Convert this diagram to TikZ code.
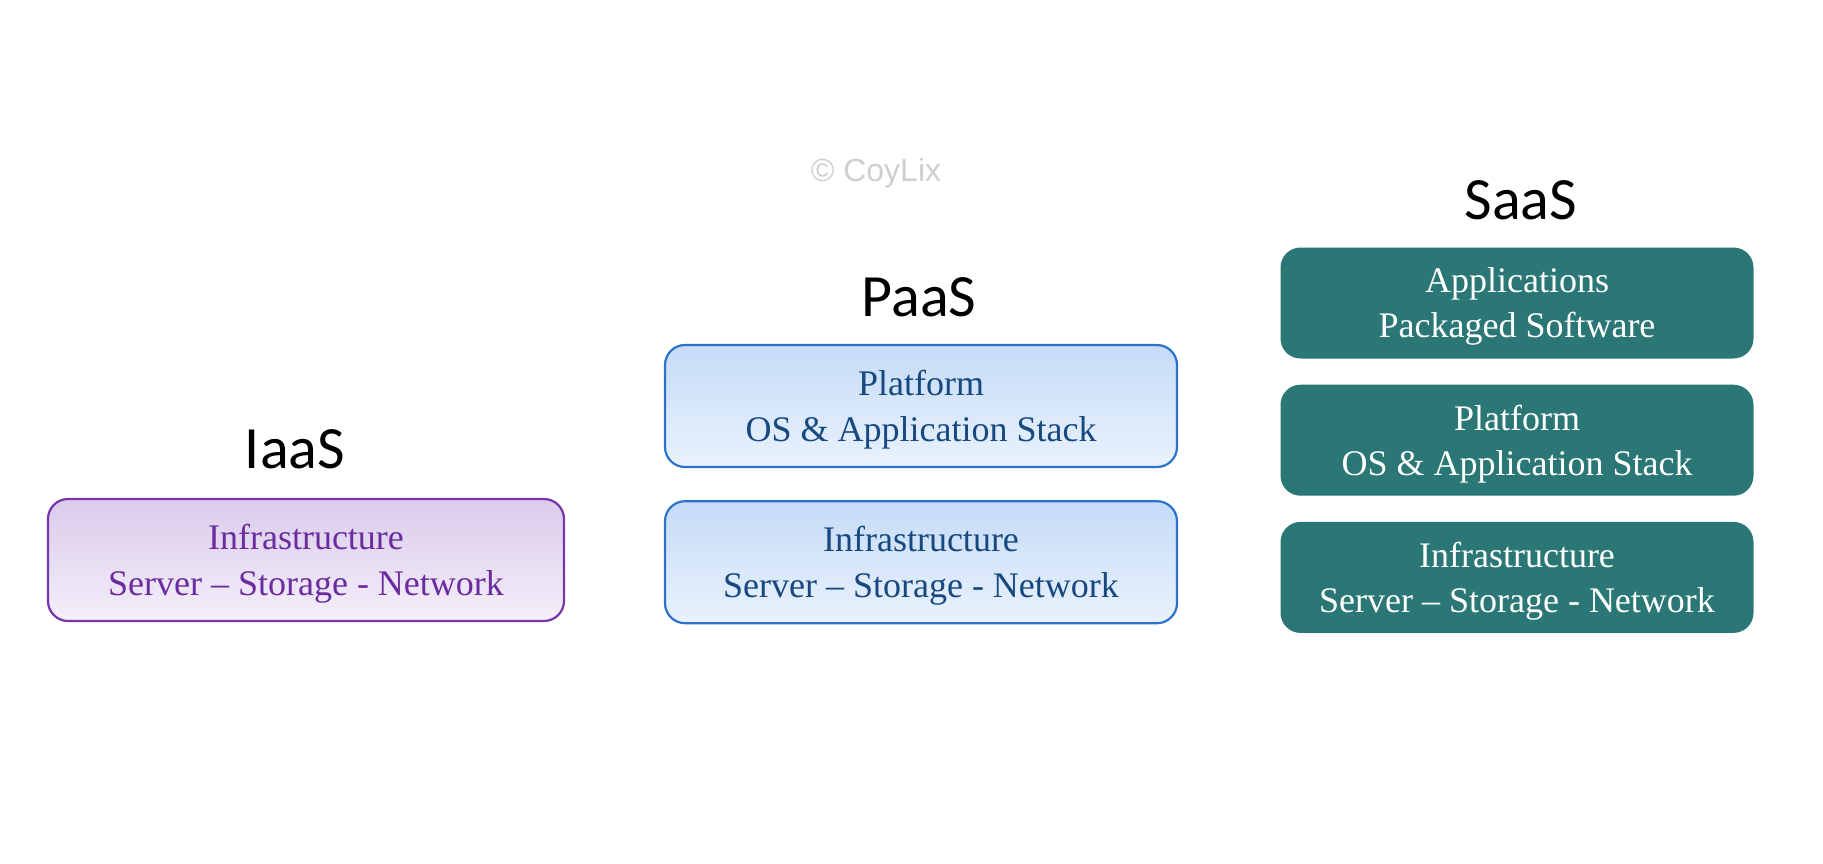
\documentclass[tikz,border=0pt]{standalone}
\usepackage{fontspec}
\setmainfont{Liberation Serif}
\newfontfamily\headfont{Carlito}
\newfontfamily\markfont{Liberation Sans}
\definecolor{iaasline}{HTML}{7636AA}
\definecolor{iaastext}{HTML}{6A2C9E}
\definecolor{iaastop}{HTML}{DACBEA}
\definecolor{iaasbot}{HTML}{F4EFFA}
\definecolor{paasline}{HTML}{2C72C8}
\definecolor{paastext}{HTML}{17487E}
\definecolor{paastop}{HTML}{C5DBF7}
\definecolor{paasbot}{HTML}{E9F2FD}
\definecolor{saasfill}{HTML}{2A7775}
\usetikzlibrary{positioning}

\begin{document}
\begin{tikzpicture}[x=1pt, y=-1pt,
    layer/.style={rounded corners=20pt, align=center, inner sep=0pt,
      line width=2.2pt, minimum height=122pt, text depth=0pt,
      font=\fontsize{36}{46}\selectfont},
    iaasbox/.style={layer, draw=iaasline, top color=iaastop,
      bottom color=iaasbot, text=iaastext, minimum width=516pt},
    paasbox/.style={layer, draw=paasline, top color=paastop,
      bottom color=paasbot, text=paastext, minimum width=512pt},
    saasbox/.style={layer, fill=saasfill, text=white,
      minimum width=473pt, minimum height=111pt,
      font=\fontsize{36}{45}\selectfont},
    head/.style={anchor=base, font=\headfont\fontsize{60}{60}\selectfont}
  ]
  \useasboundingbox (0,0) rectangle (1823,863);

  % watermark
  \node[anchor=base, text=black!19, font=\markfont\fontsize{32}{32}\selectfont]
    (mark) at (876,181) {© CoyLix};

  % IaaS: one layer
  \node[head] (iaas) at (295,468) {IaaS};
  \node[iaasbox] (iaasinfra) at (306,560)
    {Infrastructure\\Server – Storage - Network};

  % PaaS: two layers
  \node[head] (paas) at (919,316) {PaaS};
  \node[paasbox] (paasplat) at (921,406)
    {Platform\\OS \& Application Stack};
  \node[paasbox, below=32pt of paasplat] (paasinfra)
    {Infrastructure\\Server – Storage - Network};

  % SaaS: three layers
  \node[head] (saas) at (1521,219) {SaaS};
  \node[saasbox] (saasapp) at (1517,303)
    {Applications\\Packaged Software};
  \node[saasbox, below=24pt of saasapp] (saasplat)
    {Platform\\OS \& Application Stack};
  \node[saasbox, below=24pt of saasplat] (saasinfra)
    {Infrastructure\\Server – Storage - Network};

\end{tikzpicture}
\end{document}
